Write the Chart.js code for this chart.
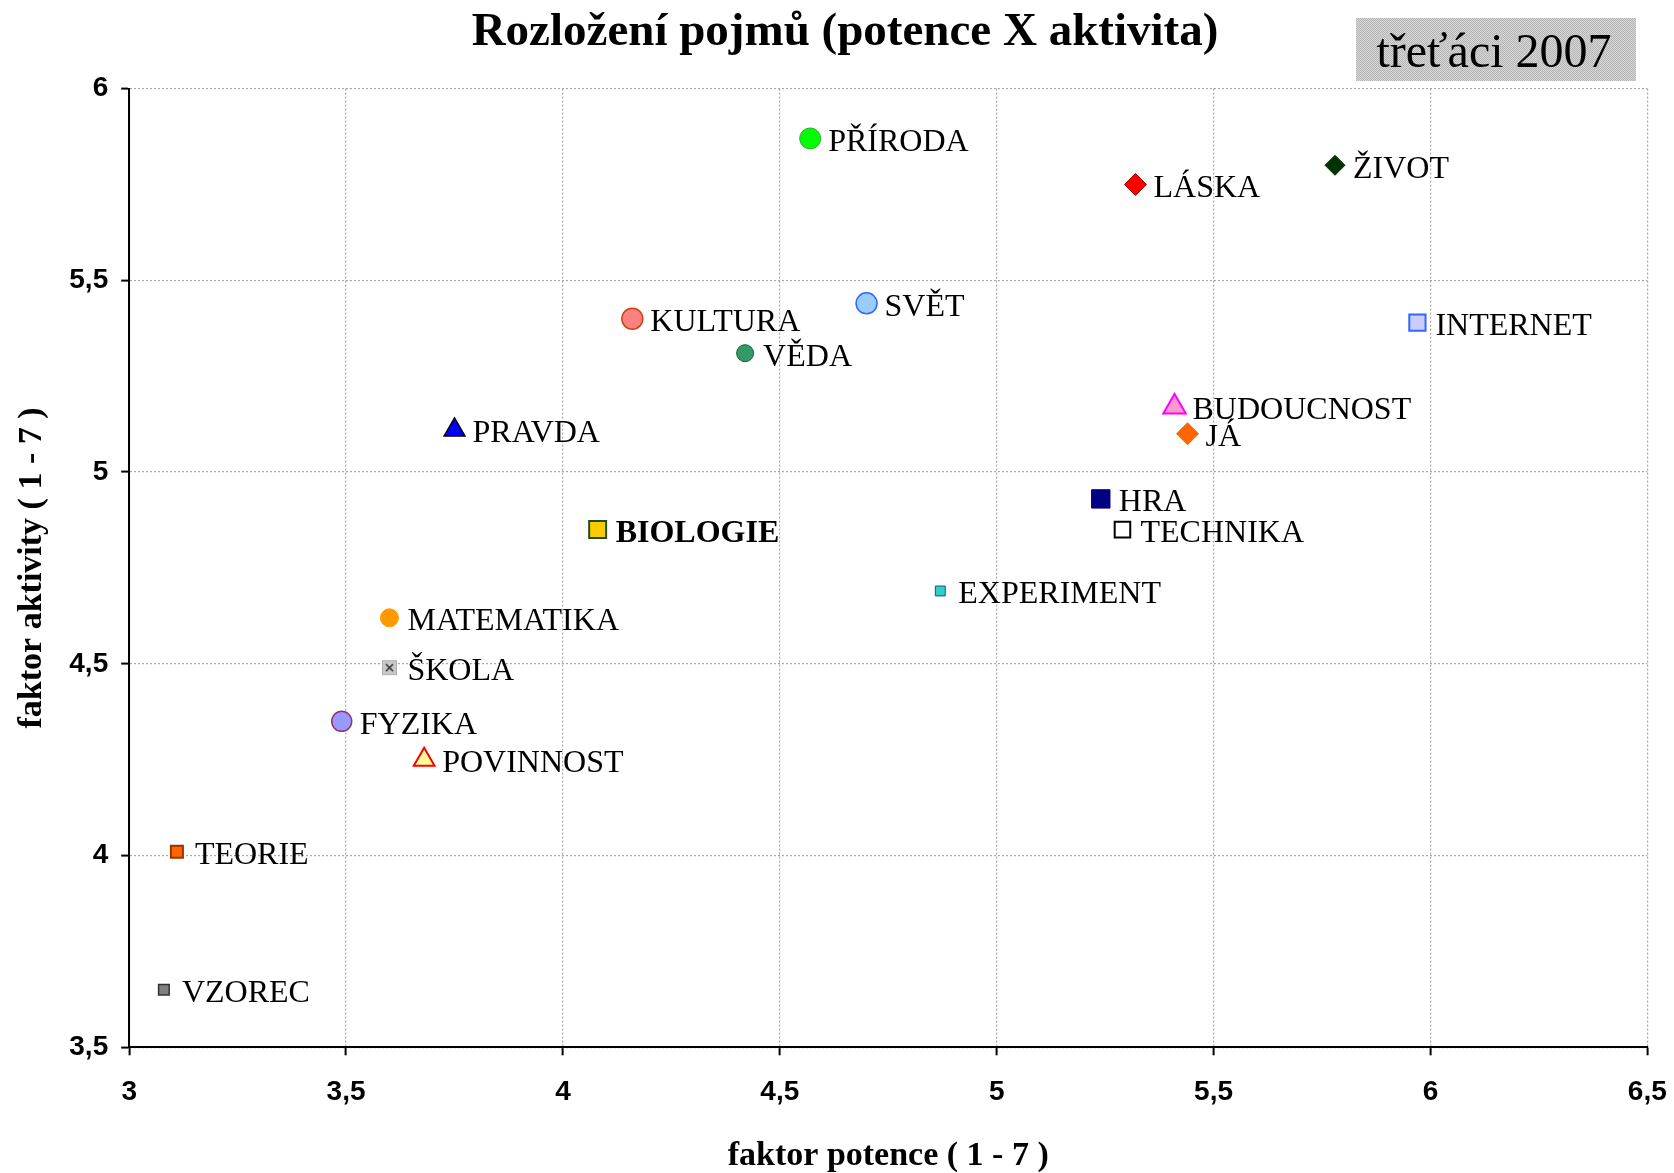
<!DOCTYPE html>
<html>
<head>
<meta charset="utf-8">
<title>Rozložení pojmů</title>
<script src="https://cdn.jsdelivr.net/npm/chart.js@4/dist/chart.umd.min.js"></script>
<style>
    html, body { margin: 0; padding: 0; background: #fff; }
    #wrap { width: 1674px; height: 1173px; }
</style>
</head>
<body>
<div id="wrap"><canvas id="pojmyChart" width="1674" height="1173"></canvas></div>
<script>
// pojmy a jejich hodnoty (potence = x, aktivita = y)
const pojmy = ['PŘÍRODA', 'LÁSKA', 'ŽIVOT', 'SVĚT', 'KULTURA', 'VĚDA', 'INTERNET',
    'BUDOUCNOST', 'JÁ', 'PRAVDA', 'HRA', 'TECHNIKA', 'BIOLOGIE', 'EXPERIMENT',
    'MATEMATIKA', 'ŠKOLA', 'FYZIKA', 'POVINNOST', 'TEORIE', 'VZOREC'];
const potence = [4.57, 5.32, 5.78, 4.70, 4.16, 4.42, 5.97,
    5.41, 5.44, 3.75, 5.24, 5.29, 4.08, 4.87,
    3.60, 3.60, 3.49, 3.68, 3.11, 3.08];
const aktivita = [5.87, 5.75, 5.80, 5.44, 5.40, 5.31, 5.39,
    5.17, 5.10, 5.11, 4.93, 4.85, 4.85, 4.69,
    4.62, 4.49, 4.35, 4.25, 4.01, 3.65];
const xTicks = [3, 3.5, 4, 4.5, 5, 5.5, 6, 6.5];
const yTicks = [3.5, 4, 4.5, 5, 5.5, 6];

// ikona pro ŠKOLA - sedy ctverecek s krizkem
function skolaIcon() {
    const c = document.createElement('canvas');
    c.width = 17; c.height = 17;
    const g = c.getContext('2d');
    g.fillStyle = '#c8c8c8';
    g.fillRect(1, 1, 15, 15);
    g.strokeStyle = '#b0b0b0';
    g.strokeRect(1.5, 1.5, 14, 14);
    g.strokeStyle = '#333';
    g.lineWidth = 1.5;
    g.beginPath();
    g.moveTo(5, 5); g.lineTo(12, 12);
    g.moveTo(12, 5); g.lineTo(5, 12);
    g.stroke();
    return c;
}

// styl znacek: [tvar, radius, vypln, okraj, sirka okraje]
const markers = [
    ['circle', 10.5, '#00ff00', '#33aa33', 1],
    ['rectRot', 11, '#ff0000', '#aa0000', 1],
    ['rectRot', 10, '#003300', '#003300', 1],
    ['circle', 10.5, '#99ccff', '#3366ff', 1.5],
    ['circle', 10.5, '#ff8080', '#cc4411', 1.5],
    ['circle', 8.5, '#339966', '#11662f', 1],
    ['rect', 11.5, '#ccccff', '#3366ff', 2],
    ['triangle', 13, '#ff99cc', '#ff00ff', 2],
    ['rectRot', 11, '#ff6600', '#ff6600', 1],
    ['triangle', 12, '#0000ff', '#000000', 1.5],
    ['rect', 13, '#000080', '#000080', 1],
    ['rect', 11, '#ffffff', '#000000', 2],
    ['rect', 12, '#ffcc00', '#1d4d1d', 2],
    ['rect', 7, '#33cccc', '#006666', 1],
    ['circle', 9, '#ff9900', '#ff9900', 1],
    [skolaIcon(), 9, '#c8c8c8', '#c8c8c8', 0],
    ['circle', 10, '#9999ff', '#993366', 1.5],
    ['triangle', 12, '#ffff99', '#ff0000', 2],
    ['rect', 8.5, '#ff6600', '#993300', 2],
    ['rect', 7.5, '#808080', '#333333', 1.5]
];

const datasets = pojmy.map((name, i) => {
    const m = markers[i];
    return {
        label: name,
        data: [{ x: potence[i], y: aktivita[i] }],
        pointStyle: m[0],
        pointRadius: m[1],
        pointHoverRadius: m[1],
        backgroundColor: m[2],
        borderColor: m[3],
        pointBorderWidth: m[4],
        showLine: false
    };
});

const carka = v => String(v).replace('.', ',');
const serif = '"Liberation Serif", "Times New Roman", serif';

// popisky vedle bodu + nadpis a ramecek
const popiskyPlugin = {
    id: 'popisky',
    afterDatasetsDraw(chart) {
        const ctx = chart.ctx;
        ctx.save();
        ctx.fillStyle = '#000';
        ctx.textBaseline = 'middle';
        ctx.textAlign = 'left';
        chart.data.datasets.forEach((ds, i) => {
            const pt = chart.getDatasetMeta(i).data[0];
            const bold = ds.label === 'BIOLOGIE' ? 'bold ' : '';
            ctx.font = bold + '32px ' + serif;
            ctx.fillText(ds.label, pt.x + 18, pt.y + 4);
        });
        ctx.restore();
    },
    afterDraw(chart) {
        const ctx = chart.ctx;
        ctx.save();
        // nadpis
        ctx.fillStyle = '#000';
        ctx.textAlign = 'center';
        ctx.textBaseline = 'alphabetic';
        ctx.font = 'bold 47px ' + serif;
        ctx.fillText('Rozložení pojmů (potence X aktivita)', 845, 45);
        // ramecek s teckovanou vyplni
        const p = document.createElement('canvas');
        p.width = 2; p.height = 2;
        const pg = p.getContext('2d');
        pg.fillStyle = '#d8d8d8';
        pg.fillRect(0, 0, 2, 2);
        pg.fillStyle = '#b4b4b4';
        pg.fillRect(0, 0, 1, 1);
        pg.fillRect(1, 1, 1, 1);
        ctx.fillStyle = ctx.createPattern(p, 'repeat');
        ctx.fillRect(1356, 18, 280, 63);
        ctx.fillStyle = '#000';
        ctx.font = '48px ' + serif;
        ctx.fillText('třeťáci 2007', 1494, 67);
        ctx.restore();
    }
};

const ctx = document.getElementById('pojmyChart').getContext('2d');
const pojmyChart = new Chart(ctx, {
    type: 'scatter',
    data: { datasets: datasets },
    options: {
        responsive: false,
        animation: false,
        events: [],
        layout: { padding: { top: 88.6, right: 26.7, left: 0, bottom: 0 } },
        plugins: {
            legend: { display: false },
            tooltip: { enabled: false },
            title: { display: false }
        },
        scales: {
            x: {
                type: 'linear',
                min: xTicks[0],
                max: xTicks[xTicks.length - 1],
                afterBuildTicks: axis => { axis.ticks = xTicks.map(v => ({ value: v })); },
                afterFit: axis => {
                    axis.height = 125.7;
                    axis.paddingLeft = 0;
                    axis.paddingRight = 0;
                },
                ticks: {
                    callback: carka,
                    color: '#000',
                    padding: 20,
                    maxRotation: 0,
                    font: { family: '"Liberation Sans", Arial, sans-serif', size: 28, weight: 'bold' }
                },
                grid: { color: '#a8a8a8', lineWidth: 1.2, tickLength: 8, tickColor: '#000', tickWidth: 2 },
                border: { color: '#000', width: 2, dash: [2, 2] },
                title: {
                    display: true,
                    text: 'faktor potence ( 1 - 7 )',
                    color: '#000',
                    padding: { top: 0, bottom: 0 },
                    font: { family: serif, size: 34, weight: 'bold', lineHeight: 1 }
                }
            },
            y: {
                type: 'linear',
                min: yTicks[0],
                max: yTicks[yTicks.length - 1],
                afterBuildTicks: axis => { axis.ticks = yTicks.map(v => ({ value: v })); },
                afterFit: axis => {
                    axis.width = 129.2;
                    axis.paddingTop = 0;
                    axis.paddingBottom = 0;
                },
                ticks: {
                    callback: carka,
                    color: '#000',
                    padding: 13,
                    font: { family: '"Liberation Sans", Arial, sans-serif', size: 28, weight: 'bold' }
                },
                grid: { color: '#a8a8a8', lineWidth: 1.2, tickLength: 8, tickColor: '#000', tickWidth: 2 },
                border: { color: '#000', width: 2, dash: [2, 2] },
                title: {
                    display: true,
                    text: 'faktor aktivity ( 1 - 7 )',
                    color: '#000',
                    padding: { top: 15, bottom: 0 },
                    font: { family: serif, size: 34, weight: 'bold', lineHeight: 1 }
                }
            }
        }
    },
    plugins: [popiskyPlugin]
});
</script>
</body>
</html>
